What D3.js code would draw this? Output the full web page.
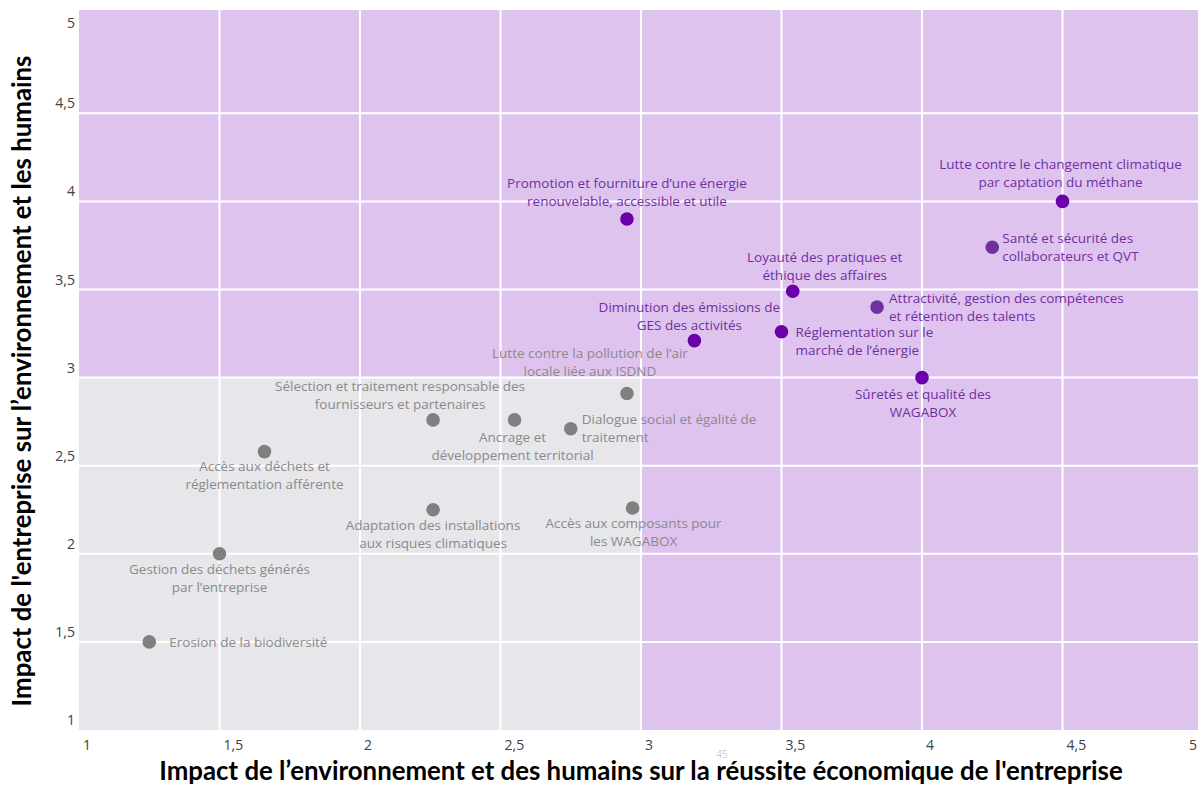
<!DOCTYPE html>
<html>
<head>
<meta charset="utf-8">
<script src="https://cdn.jsdelivr.net/npm/d3@7"></script>
<style>
  html, body { margin: 0; padding: 0; background: #fff; }
  #chart { width: 1198px; height: 785px; overflow: hidden; }
  text { font-family: "Open Sans", Lato, sans-serif; }
  text.titre { font-family: Lato, sans-serif; font-weight: 700; }
</style>
</head>
<body>
<div id="chart"></div>
<script>
// enjeux (libellés, lignes séparées par \n)
const enjeux = [
  "Erosion de la biodiversité",
  "Gestion des déchets générés\npar l’entreprise",
  "Accès aux déchets et\nréglementation afférente",
  "Sélection et traitement responsable des\nfournisseurs et partenaires",
  "Adaptation des installations\naux risques climatiques",
  "Ancrage et\ndéveloppement territorial",
  "Dialogue social et égalité de\ntraitement",
  "Lutte contre la pollution de l’air\nlocale liée aux ISDND",
  "Accès aux composants pour\nles WAGABOX",
  "Promotion et fourniture d’une énergie\nrenouvelable, accessible et utile",
  "Diminution des émissions de\nGES des activités",
  "Loyauté des pratiques et\néthique des affaires",
  "Réglementation sur le\nmarché de l’énergie",
  "Attractivité, gestion des compétences\net rétention des talents",
  "Santé et sécurité des\ncollaborateurs et QVT",
  "Lutte contre le changement climatique\npar captation du méthane",
  "Sûretés et qualité des\nWAGABOX"
];
// impact sur la réussite économique (axe x)
const impactEco = [1.25, 1.50, 1.66, 2.26, 2.26, 2.55, 2.75, 2.95, 2.97, 2.95, 3.19, 3.54, 3.50, 3.84, 4.25, 4.50, 4.00];
// impact sur l'environnement et les humains (axe y)
const impactEnv = [1.50, 2.00, 2.58, 2.76, 2.25, 2.76, 2.71, 2.91, 2.26, 3.90, 3.21, 3.49, 3.26, 3.40, 3.74, 4.00, 3.00];
// groupe de matérialité
const groupes = ["faible", "faible", "faible", "faible", "faible", "faible", "faible", "faible", "faible",
                 "fort", "fort", "fort", "fort", "moyen", "moyen", "fort", "fort"];
const ticks = [1, 1.5, 2, 2.5, 3, 3.5, 4, 4.5, 5];
const tickLabels = ["1", "1,5", "2", "2,5", "3", "3,5", "4", "4,5", "5"];

// placement des étiquettes (côté, décalages en px)
const placement = [
  {a: "start", dx: 20, dy: 0}, {a: "middle", dx: 0, dy: 15}, {a: "middle", dx: 0, dy: 14},
  {a: "middle", dx: -33, dy: -34}, {a: "middle", dx: 0, dy: 15}, {a: "middle", dx: -2, dy: 17},
  {a: "start", dx: 11, dy: -10}, {a: "middle", dx: -37, dy: -40}, {a: "middle", dx: 1, dy: 15},
  {a: "middle", dx: 0, dy: -36}, {a: "middle", dx: -5, dy: -34}, {a: "middle", dx: 32, dy: -34},
  {a: "start", dx: 14, dy: 0}, {a: "start", dx: 12, dy: -9}, {a: "start", dx: 10, dy: -9},
  {a: "middle", dx: -2, dy: -37}, {a: "middle", dx: 1, dy: 16}
];

const W = 1198, H = 785;
const svg = d3.select("#chart").append("svg").attr("width", W).attr("height", H);

const x = d3.scaleLinear().domain([1, 5]).range([79, 1203]);
const y = d3.scaleLinear().domain([1, 5]).range([730, 25.2]);
const yTop = 10;

const dotColor = {faible: "#808080", fort: "#6a00a8", moyen: "#7030a0"};
const textColor = {faible: "#8a8a8a", fort: "#7030a0", moyen: "#7030a0"};

// fonds des quadrants
svg.append("rect").attr("x", x(1)).attr("y", yTop).attr("width", x(5) - x(1)).attr("height", y(1) - yTop)
  .attr("fill", "#dec3ef");
svg.append("rect").attr("x", x(1)).attr("y", y(3)).attr("width", x(3) - x(1)).attr("height", y(1) - y(3))
  .attr("fill", "#e6e6eb");

// grille
const inner = ticks.filter(t => t > 1 && t < 5);
svg.append("g").selectAll("line.v").data(ticks.filter(t => t > 1)).join("line")
  .attr("x1", d => x(d)).attr("x2", d => x(d)).attr("y1", yTop).attr("y2", y(1))
  .attr("stroke", "#fff").attr("stroke-width", 2);
svg.append("g").selectAll("line.h").data(inner).join("line")
  .attr("x1", x(1)).attr("x2", W).attr("y1", d => y(d)).attr("y2", d => y(d))
  .attr("stroke", "#fff").attr("stroke-width", 2);

// graduations
svg.append("g").selectAll("text").data(ticks).join("text")
  .attr("x", d => Math.min(x(d) + 4, 1189)).attr("y", 750).attr("text-anchor", "start")
  .attr("font-size", 14).attr("fill", "#404040").text((d, i) => tickLabels[i]);
svg.append("g").selectAll("text").data(ticks).join("text")
  .attr("x", 75).attr("y", d => Math.max(28, y(d) - 5)).attr("text-anchor", "end")
  .attr("font-size", 14).attr("fill", "#404040").text((d, i) => tickLabels[i]);

// points
const pts = enjeux.map((name, i) => ({name, vx: impactEco[i], vy: impactEnv[i], g: groupes[i], p: placement[i]}));
svg.append("g").selectAll("circle").data(pts).join("circle")
  .attr("cx", d => x(d.vx)).attr("cy", d => y(d.vy)).attr("r", 6.8)
  .attr("fill", d => dotColor[d.g]);

// étiquettes
const lh = 18;
const lbl = svg.append("g").selectAll("text").data(pts).join("text")
  .attr("text-anchor", d => d.p.a).attr("font-size", 13.5)
  .attr("fill", d => textColor[d.g]);
lbl.each(function(d) {
  const lines = d.name.split("\n");
  const t = d3.select(this);
  lines.forEach((s, k) => {
    t.append("tspan").attr("x", x(d.vx) + d.p.dx)
      .attr("y", y(d.vy) + d.p.dy + 5 + k * lh).text(s);
  });
});

// titres des axes
svg.append("text").attr("class", "titre").attr("x", 641).attr("y", 780).attr("text-anchor", "middle")
  .attr("font-size", 25.8).attr("fill", "#000")
  .text("Impact de l’environnement et des humains sur la réussite économique de l'entreprise");
svg.append("text").attr("class", "titre").attr("transform", "translate(31,381) rotate(-90)")
  .attr("text-anchor", "middle")
  .attr("font-size", 25.8).attr("fill", "#000")
  .text("Impact de l'entreprise sur l’environnement et les humains");

// numéro de page
svg.append("text").attr("x", 722).attr("y", 758).attr("text-anchor", "middle")
  .attr("font-size", 10).attr("fill", "#cccccc").text("45");
</script>
</body>
</html>
